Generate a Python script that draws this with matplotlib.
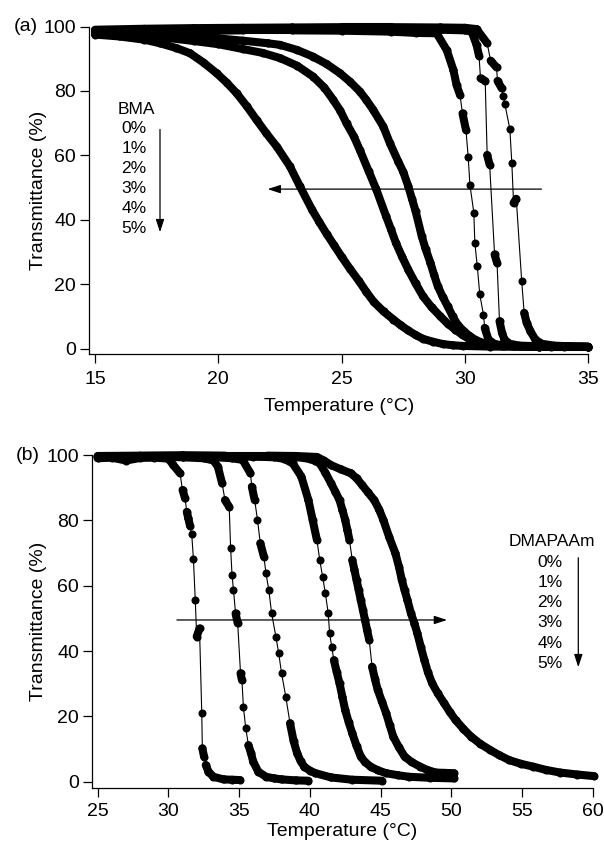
import numpy as np
import matplotlib
matplotlib.use("Agg")
import matplotlib.pyplot as plt
from matplotlib.patches import FancyArrowPatch

plt.rcParams.update({"font.family": ["Liberation Sans", "DejaVu Sans"], "font.size": 13.5})

W, H = 604, 842

# ---------------------------------------------------------------- panel (a): BMA series
bma_labels = ["0%", "1%", "2%", "3%", "4%", "5%"]

bma0_x = [15, 17, 19, 21, 23, 25, 27, 29, 30.0, 30.47, 30.9, 31.04, 31.28, 31.32, 31.49, 31.55, 31.62,
          31.82, 31.9, 31.97, 32.08, 32.3, 32.4, 32.5, 32.65, 32.85, 33.1, 33.6, 34.2, 35.0]
bma0_y = [99.0, 99.3, 99.5, 99.6, 99.7, 99.8, 99.8, 99.7, 99.6, 99.2, 94.8, 89.4, 87.3, 83.1, 80.8, 78.5, 75.8,
          68.1, 57.5, 45.2, 46.5, 20.9, 11.1, 8.0, 5.4, 2.8, 1.5, 0.9, 0.7, 0.6]

bma1_x = [15, 17, 19, 21, 23, 25, 27, 29, 30.0, 30.27, 30.47, 30.57, 30.63, 30.82, 30.9, 31.0, 31.2, 31.3,
          31.4, 31.5, 31.6, 31.8, 32.2, 33.0, 34.0, 35.0]
bma1_y = [98.5, 98.8, 99.0, 99.2, 99.3, 99.3, 99.2, 99.0, 98.8, 98.4, 94.3, 90.9, 83.9, 83.1, 60.1, 57.1, 29.2, 26.6,
          8.5, 4.9, 2.8, 1.5, 0.9, 0.7, 0.6, 0.5]

bma2_x = [15, 17, 19, 21, 23, 25, 27, 28, 28.85, 29.26, 29.53, 29.66, 29.8, 29.9, 30.04, 30.13, 30.2, 30.36,
          30.4, 30.5, 30.6, 30.75, 30.8, 30.95, 31.2, 31.6, 32.5, 33.5, 35.0]
bma2_y = [98.0, 98.3, 98.6, 98.8, 98.8, 98.7, 98.4, 98.0, 97.9, 92.7, 86.5, 81.8, 78.7, 73.0, 67.9, 59.6, 50.9, 42.1,
          32.8, 25.5, 16.8, 10.5, 6.4, 2.8, 1.4, 0.9, 0.7, 0.6, 0.5]

bma3_x = [15, 16, 17, 18, 19, 20, 21, 22, 22.5, 23.2, 23.85, 24.4, 24.93, 25.35, 25.74, 26.0, 26.28, 26.69,
          26.96, 27.3, 27.5, 27.7, 27.85, 28.0, 28.25, 28.4, 28.6, 28.75, 28.9, 29.1, 29.3, 29.5, 29.7, 29.95,
          30.2, 30.45, 30.7, 31.0, 31.3, 32.0, 33.0, 35.0]
bma3_y = [98.6, 98.4, 98.0, 97.6, 97.0, 96.3, 95.6, 94.8, 94.3, 92.7, 90.6, 88.3, 85.5, 82.8, 79.8, 77.2, 74.1, 68.9,
          63.7, 58.0, 54.8, 50.4, 46.5, 42.6, 34.8, 31.0, 26.6, 22.8, 19.3, 16.0, 13.1, 10.0, 7.4, 5.4,
          3.8, 2.6, 1.8, 1.3, 1.0, 0.7, 0.6, 0.5]

bma4_x = [15, 16, 17, 18, 19, 20, 21, 21.8, 22.5, 23.2, 23.85, 24.3, 24.66, 24.95, 25.2, 25.5, 25.74, 26.1,
          26.4, 26.8, 27.0, 27.2, 27.45, 27.7, 28.0, 28.3, 28.65, 29.0, 29.3, 29.6, 29.9, 30.2, 30.5, 30.8,
          31.5, 33.0, 35.0]
bma4_y = [98.2, 97.8, 97.2, 96.4, 95.5, 94.5, 93.0, 91.8, 90.2, 87.8, 84.4, 81.0, 77.2, 73.8, 69.9, 65.8, 61.6, 55.0,
          49.5, 41.1, 37.0, 32.8, 28.5, 24.5, 20.2, 16.2, 12.8, 10.0, 7.7, 5.9, 4.2, 2.8, 1.9, 1.3,
          0.8, 0.6, 0.5]

bma5_x = [15, 16, 17, 17.63, 18.3, 18.85, 19.4, 19.93, 20.35, 20.74, 21.15, 21.55, 21.95, 22.37, 22.9, 23.3,
          23.8, 24.1, 24.4, 24.7, 25.0, 25.35, 25.7, 26.0, 26.3, 26.7, 27.1, 27.4, 27.7, 28.0, 28.3, 28.7,
          29.1, 29.5, 29.9, 31.0, 33.0, 35.0]
bma5_y = [97.5, 96.9, 95.9, 94.8, 93.3, 91.7, 88.8, 85.5, 82.5, 79.3, 75.3, 71.0, 66.8, 62.7, 56.6, 50.5,
          43.1, 39.2, 35.5, 32.0, 28.5, 24.6, 21.0, 17.6, 14.5, 11.5, 9.0, 7.2, 5.6, 4.2, 3.0, 2.1,
          1.4, 1.0, 0.8, 0.6, 0.5, 0.5]

bma_x = [bma0_x, bma1_x, bma2_x, bma3_x, bma4_x, bma5_x]
bma_y = [bma0_y, bma1_y, bma2_y, bma3_y, bma4_y, bma5_y]

# ---------------------------------------------------------------- panel (b): DMAPAAm series
dm_labels = ["0%", "1%", "2%", "3%", "4%", "5%"]

dm0_x = [25, 26, 27, 28, 29, 30, 30.35, 30.82, 31.0, 31.18, 31.3, 31.41, 31.53, 31.65, 31.77, 31.9, 32.0,
         32.2, 32.36, 32.4, 32.52, 32.64, 32.83, 33.18, 33.9, 34.5, 35.07]
dm0_y = [99.0, 99.2, 98.3, 99.1, 99.2, 98.9, 96.9, 94.4, 89.3, 86.7, 82.6, 80.6, 78.3, 75.7, 68.2, 55.6, 44.4,
         46.9, 20.9, 10.2, 7.7, 5.1, 3.1, 1.5, 0.7, 0.6, 0.5]

dm1_x = [25, 27, 29, 31, 32.5, 33.2, 33.5, 33.8, 34.0, 34.3, 34.4, 34.5, 34.6, 34.75, 34.9, 35.1, 35.2, 35.3,
         35.47, 35.66, 35.83, 36.0, 36.35, 36.9, 37.5, 38.0, 39.0, 39.9]
dm1_y = [99.3, 99.4, 99.5, 99.3, 99.0, 98.3, 96.4, 91.3, 86.2, 84.1, 71.4, 63.3, 58.7, 51.5, 48.5, 33.2, 31.1,
         23.0, 16.3, 11.2, 8.9, 6.1, 3.1, 1.5, 1.0, 0.7, 0.4, 0.3]

dm2_x = [25, 27, 29, 31, 33, 34.5, 35.25, 35.8, 35.9, 36.1, 36.3, 36.5, 36.75, 36.9, 37.1, 37.3, 37.6, 37.8,
         38.0, 38.3, 38.6, 38.85, 39.1, 39.35, 39.6, 40.0, 40.4, 41.5, 43.0, 45.1]
dm2_y = [99.4, 99.5, 99.6, 99.5, 99.4, 99.0, 98.5, 94.4, 90.3, 86.2, 80.1, 73.0, 68.9, 63.8, 58.7, 51.5, 44.4,
         39.3, 33.2, 26.0, 17.9, 12.5, 8.7, 6.3, 4.6, 3.4, 2.6, 1.3, 0.6, 0.3]

dm3_x = [25, 28, 31, 34, 36, 37.5, 38.2, 38.8, 39.4, 39.9, 40.2, 40.5, 40.7, 40.9, 41.1, 41.3, 41.4, 41.55,
         41.7, 41.9, 42.1, 42.3, 42.5, 42.75, 43.0, 43.3, 43.6, 43.9, 44.3, 44.8, 45.4, 46.2, 47.0, 48.5, 50.2]
dm3_y = [99.5, 99.6, 99.7, 99.6, 99.5, 99.3, 98.8, 97.4, 93.4, 86.2, 80.1, 74.0, 67.9, 62.8, 57.7, 51.5, 45.4, 41.2,
         37.2, 33.6, 30.1, 26.0, 21.9, 18.2, 14.8, 11.0, 7.7, 6.0, 4.6, 3.5, 2.6, 2.0, 1.5, 1.2, 1.0]

dm4_x = [25, 28, 31, 34, 37, 39, 40.0, 40.4, 40.7, 41.1, 41.5, 41.8, 42.1, 42.3, 42.5, 42.65, 42.8, 43.0,
         43.15, 43.3, 43.45, 43.6, 43.75, 43.9, 44.05, 44.2, 44.4, 44.6, 44.8, 45.1, 45.4, 45.65, 45.9, 46.3,
         46.7, 47.2, 47.8, 48.3, 48.9, 49.5, 50.2]
dm4_y = [99.6, 99.7, 99.8, 99.7, 99.6, 99.4, 98.8, 98.2, 97.4, 94.6, 91.3, 88.8, 86.2, 83.2, 80.1, 77.1, 74.0, 67.9,
         64.9, 61.8, 58.8, 55.6, 52.6, 49.5, 46.4, 43.4, 35.2, 31.5, 28.1, 24.5, 20.9, 17.3, 13.8, 10.5,
         7.7, 6.0, 4.6, 3.6, 2.8, 2.7, 2.6]

dm5_x = [25, 28, 31, 34, 37, 39, 40.5, 41.0, 41.5, 42.2, 42.9, 43.3, 43.7, 44.1, 44.55, 44.9, 45.2, 45.6,
         46.05, 46.3, 46.5, 46.7, 46.9, 47.15, 47.4, 47.6, 47.85, 48.1, 48.35, 48.65, 49.05, 49.5, 49.9, 50.3,
         50.85, 51.4, 52.05, 52.75, 53.4, 54.1, 54.9, 55.8, 56.7, 57.7, 58.9, 60.1]
dm5_y = [99.7, 99.8, 99.9, 99.8, 99.8, 99.7, 99.4, 98.3, 96.9, 95.6, 94.4, 92.9, 90.8, 88.6, 86.2, 83.3, 80.1, 75.0,
         69.9, 65.8, 61.8, 58.6, 55.6, 51.5, 48.4, 45.4, 41.2, 37.2, 33.5, 30.1, 27.0, 24.0, 21.3, 18.9,
         16.2, 13.8, 11.6, 9.7, 8.1, 6.6, 5.5, 4.6, 3.6, 2.8, 2.2, 1.7]

dm_x = [dm0_x, dm1_x, dm2_x, dm3_x, dm4_x, dm5_x]
dm_y = [dm0_y, dm1_y, dm2_y, dm3_y, dm4_y, dm5_y]

ARROW = "-|>,head_length=0.55,head_width=0.18"


def fx(px):
    return px / W


def fy(py):
    return 1 - py / H


def draw_curve(ax, x, y):
    x = np.asarray(x, float)
    y = np.asarray(y, float)
    p = ax.transData.transform(np.column_stack([x, y]))
    d = np.diff(p, axis=0)
    slope = np.abs(d[:, 1]) / np.maximum(np.abs(d[:, 0]), 1e-6)
    # dense measurement points merge into a thick band where the curve is shallow
    for i in np.where(slope < 5)[0]:
        ax.plot(x[i:i + 2], y[i:i + 2], color="k", lw=5.8, solid_capstyle="round", clip_on=False)
    ax.plot(x, y, color="k", lw=0.8, clip_on=False)
    ax.plot(x, y, "o", color="k", ms=5.8, mew=0, clip_on=False)


def style(ax, xlim, xticks, ylab_x, xlab_y, xpad):
    ax.set_xlim(*xlim)
    ax.set_xticks(xticks)
    ax.set_yticks([0, 20, 40, 60, 80, 100])
    for s in ("top", "right"):
        ax.spines[s].set_visible(False)
    for s in ("left", "bottom"):
        ax.spines[s].set_linewidth(0.9)
    ax.tick_params(axis="both", direction="out", length=6.5, width=0.9, labelsize=14)
    ax.tick_params(axis="y", pad=3)
    ax.tick_params(axis="x", pad=xpad)
    ax.set_ylabel("Transmittance (%)", fontsize=14, va="center", ha="center")
    ax.yaxis.set_label_coords(ylab_x, 0.5)
    ax.set_xlabel("Temperature (°C)", fontsize=14, va="center", ha="center")
    ax.xaxis.set_label_coords(0.5, xlab_y)


fig = plt.figure(figsize=(W / 100, H / 100), dpi=100)

# ---------------------------------------------------------------- (a)
ax1 = fig.add_axes([89.3 / W, 1 - 354.3 / H, 499 / W, 327.8 / H])
ax1.set_ylim(-1.8, 100)
style(ax1, (14.77, 35), [15, 20, 25, 30, 35], -0.1028, -0.160, 5.5)
for xs, ys in zip(bma_x, bma_y):
    draw_curve(ax1, xs, ys)
ax1.annotate("", xy=(22.0, 49.5), xytext=(33.1, 49.5),
             arrowprops=dict(arrowstyle=ARROW, lw=0.9, color="k", mutation_scale=14, shrinkA=0, shrinkB=0))

# ---------------------------------------------------------------- (b)
ax2 = fig.add_axes([92.3 / W, 1 - 787.7 / H, 500.4 / W, 332.7 / H])
ax2.set_ylim(-1.84, 100)
style(ax2, (24.62, 60), [25, 30, 35, 40, 45, 50, 55, 60], -0.1085, -0.1315, 4.5)
for xs, ys in zip(dm_x, dm_y):
    draw_curve(ax2, xs, ys)
ax2.annotate("", xy=(49.7, 49.5), xytext=(30.6, 49.5),
             arrowprops=dict(arrowstyle=ARROW, lw=0.9, color="k", mutation_scale=14, shrinkA=0, shrinkB=0))

# ---------------------------------------------------------------- panel tags and legends
fig.text(fx(14), fy(26.5), "(a)", ha="left", va="center", fontsize=14)
fig.text(fx(15.5), fy(455), "(b)", ha="left", va="center", fontsize=14)

fig.text(fx(136.7), fy(113.5), "BMA", ha="center", va="baseline", fontsize=12.5)
for i, lab in enumerate(bma_labels):
    fig.text(fx(146.7), fy(132.7 + 20 * i), lab, ha="right", va="baseline", fontsize=12.5)
fig.add_artist(FancyArrowPatch((fx(160), fy(126.7)), (fx(160), fy(235)), transform=fig.transFigure,
                               arrowstyle=ARROW, mutation_scale=14, lw=0.9, color="k"))

fig.text(fx(552), fy(546), "DMAPAAm", ha="center", va="baseline", fontsize=12.5)
for i, lab in enumerate(dm_labels):
    fig.text(fx(562.7), fy(566.7 + 20.2 * i), lab, ha="right", va="baseline", fontsize=12.5)
fig.add_artist(FancyArrowPatch((fx(578.3), fy(555)), (fx(578.3), fy(670)), transform=fig.transFigure,
                               arrowstyle=ARROW, mutation_scale=14, lw=0.9, color="k"))

fig.savefig("out.png", dpi=100)
